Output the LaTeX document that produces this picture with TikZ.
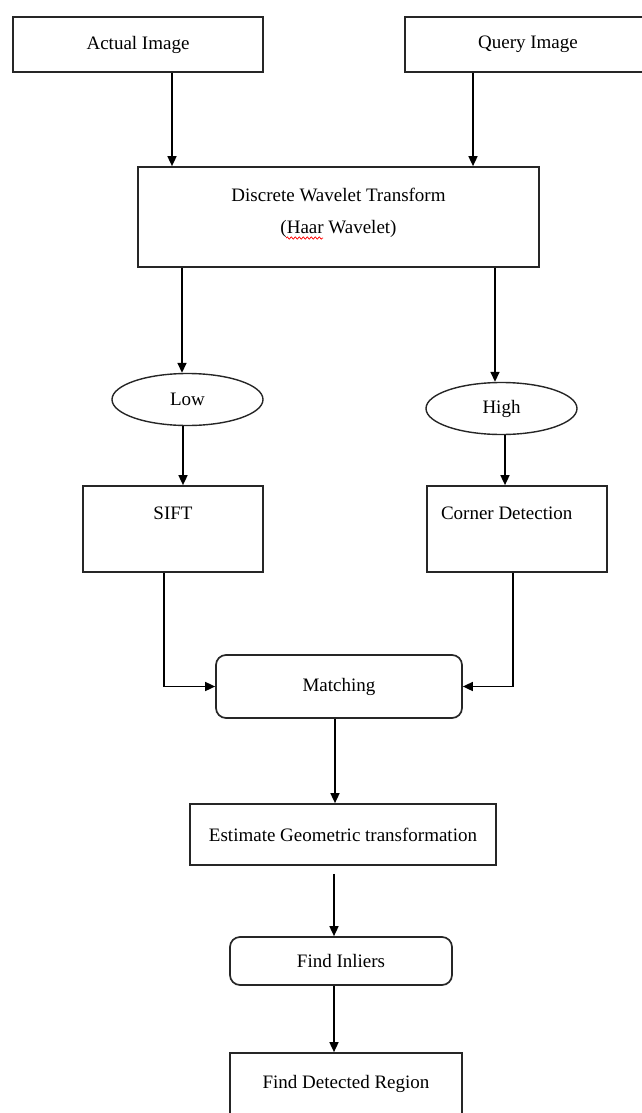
\documentclass[tikz,border=0pt]{standalone}
\usepackage{fontspec}
\setmainfont{Liberation Serif}
\usetikzlibrary{arrows.meta,shapes.geometric,decorations.pathmorphing}

\begin{document}
\begin{tikzpicture}[x=1pt,y=-1pt,line width=1.6pt,
    box/.style={draw=black!85,line width=1.7pt,inner sep=0pt,font=\fontsize{19}{22}\selectfont},
    rbox/.style={box,rounded corners=10pt},
    oval/.style={box,ellipse,line width=1.4pt,minimum width=151pt,minimum height=52pt},
    >={Triangle[length=10pt,width=9pt]}]
        \useasboundingbox (0,0) rectangle (642,1113);
        \clip (0,0) rectangle (642,1113);

        \node (actual) at (138,44.5) [box,minimum width=250pt,minimum height=55pt] {Actual Image};
        \node (query) at (528,44.5) [box,minimum width=246pt,minimum height=55pt] {Query Image};

        \node (dwt) at (338.5,217) [box,minimum width=401pt,text height=34pt,text depth=66pt]
            {\begin{tabular}[t]{@{}c@{}}Discrete Wavelet Transform\\[10pt](Haar Wavelet)\end{tabular}};
        \draw[red,line width=0.7pt,decorate,decoration={snake,amplitude=1.2pt,segment length=4pt}] (286,238) -- (323,238);

        \node (low) at (187.5,399.5) [oval] {Low};
        \node (high) at (501.5,408.5) [oval] {High};

        \node (sift) at (173,529) [box,minimum width=180pt,text height=33pt,text depth=53pt] {SIFT};
        \node (corner) at (517,529) [box,inner xsep=14pt,text height=33pt,text depth=53pt] {\makebox[152pt][l]{Corner Detection}};

        \node (match) at (339,686.5) [rbox,minimum width=246pt,minimum height=63pt] {Matching};
        \node (estim) at (343,834.5) [box,minimum width=306pt,minimum height=61pt] {Estimate Geometric transformation};
        \node (inliers) at (341,961) [rbox,minimum width=222pt,minimum height=48pt] {Find Inliers};
        \node (region) at (346,1100.5) [box,minimum width=232pt,text height=35pt,text depth=60pt] {Find Detected Region};

        \draw[->] ([xshift=34pt]actual.south) -- ([xshift=34pt]actual.south |- dwt.north);
        \draw[->] ([xshift=-55pt]query.south) -- ([xshift=-55pt]query.south |- dwt.north);

        \draw[->] ([xshift=-156.5pt]dwt.south) -- ([xshift=-156.5pt]dwt.south |- low.north);
        \draw[->] ([xshift=156.5pt]dwt.south) -- ([xshift=156.5pt]dwt.south |- high.north);

        \draw[->] ([xshift=-4.5pt]low.south) -- ([xshift=-4.5pt]low.south |- sift.north);
        \draw[->] ([xshift=3.5pt]high.south) -- ([xshift=3.5pt]high.south |- corner.north);

        \draw[->] ([xshift=-9pt]sift.south) |- (match.west);
        \draw[->] ([xshift=-4pt]corner.south) |- (match.east);

        \draw[->] ([xshift=-4pt]match.south) -- ([xshift=-4pt]match.south |- estim.north);
        \draw[->,shorten <=8pt] ([xshift=-9pt]estim.south) -- ([xshift=-9pt]estim.south |- inliers.north);
        \draw[->] ([xshift=-7pt]inliers.south) -- ([xshift=-7pt]inliers.south |- region.north);
    \end{tikzpicture}
\end{document}
